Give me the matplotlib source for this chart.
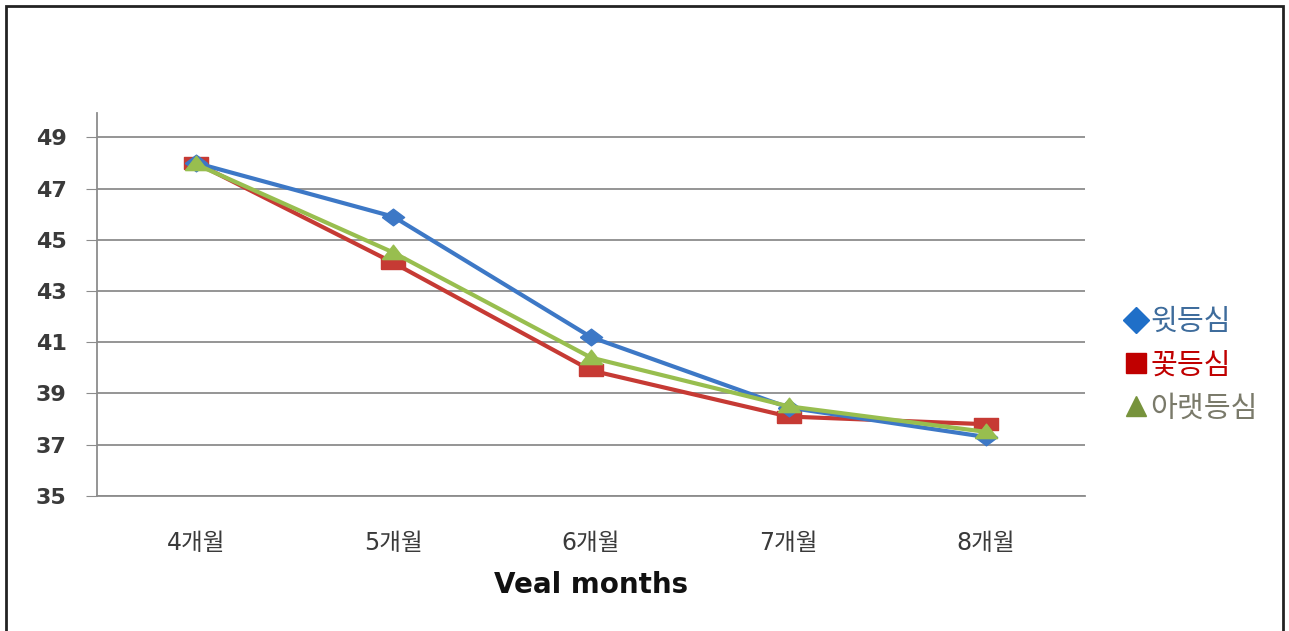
import matplotlib.pyplot as plt
from matplotlib.patches import Rectangle
from matplotlib.lines import Line2D

plt.rcParams['font.family'] = ['DejaVu Sans', 'Noto Sans CJK KR']

months = ['4개월', '5개월', '6개월', '7개월', '8개월']
upper_loin = [48.0, 45.9, 41.2, 38.45, 37.3]   # 윗등심
rib_eye = [48.0, 44.1, 39.9, 38.1, 37.8]       # 꽃등심
lower_loin = [47.95, 44.5, 40.4, 38.5, 37.5]   # 아랫등심
series_names = ['윗등심', '꽃등심', '아랫등심']

blue = '#3D78C6'
red = '#C63A34'
green = '#98BE4F'

# slightly wide marker shapes
wide_diamond = [(-1, 0), (0, 0.75), (1, 0), (0, -0.75), (-1, 0)]
wide_square = [(-1, -0.55), (1, -0.55), (1, 0.55), (-1, 0.55), (-1, -0.55)]
wide_triangle = [(-1, -0.55), (1, -0.55), (0, 0.75), (-1, -0.55)]

fig = plt.figure(figsize=(12.89, 6.31), dpi=100)
ax = fig.add_axes([0.0753, 0.214, 0.7664, 0.607])

x = range(len(months))
ax.plot(x, upper_loin, color=blue, lw=3, marker=wide_diamond, ms=16, zorder=3)
ax.plot(x, rib_eye, color=red, lw=3, marker=wide_square, ms=17, zorder=2)
ax.plot(x, lower_loin, color=green, lw=3, marker=wide_triangle, ms=16, zorder=4)

ax.set_xlim(-0.5, len(months) - 0.5)
ax.set_ylim(35, 49.95)
ax.set_yticks(range(35, 50, 2))
ax.set_xticks(list(x))
ax.set_xticklabels(months, fontsize=17, color='#3a3a3a')
ax.tick_params(axis='y', length=8, color='#8c8c8c', labelsize=16,
               labelcolor='#3a3a3a', pad=14)
ax.tick_params(axis='x', length=0, pad=25)
for lbl in ax.get_yticklabels():
    lbl.set_fontweight('bold')

ax.grid(axis='y', color='#8c8c8c', lw=1.3)
ax.set_axisbelow(True)
for side in ['top', 'right']:
    ax.spines[side].set_visible(False)
ax.spines['left'].set_color('#8c8c8c')
ax.spines['left'].set_linewidth(1.3)
ax.spines['bottom'].set_color('#8c8c8c')
ax.spines['bottom'].set_linewidth(1.3)

ax.set_xlabel('Veal months', fontsize=20, fontweight='bold', labelpad=12,
              color='#111111')

# legend with coloured labels
handles = [
    Line2D([], [], ls='none', marker='D', ms=13, color='#1F6FC8'),
    Line2D([], [], ls='none', marker='s', ms=14, color='#C00000'),
    Line2D([], [], ls='none', marker='^', ms=14, color='#77933C'),
]
leg = fig.legend(handles, series_names, loc='center left',
                 bbox_to_anchor=(0.864, 0.421), frameon=False,
                 prop={'family': ['Noto Sans CJK KR'], 'size': 21},
                 handlelength=0.7, handletextpad=0.15,
                 labelspacing=0.45, borderaxespad=0)
for txt, c in zip(leg.get_texts(), ['#3E6C9C', '#C00000', '#7A7A6A']):
    txt.set_color(c)

# frame around the chart area
fig.patches.append(Rectangle((6 / 1289, -0.01), 1277 / 1289, 1 - 6 / 631 + 0.01,
                             transform=fig.transFigure, fill=False,
                             edgecolor='#222222', lw=2))

fig.savefig('out.png', dpi=100)
